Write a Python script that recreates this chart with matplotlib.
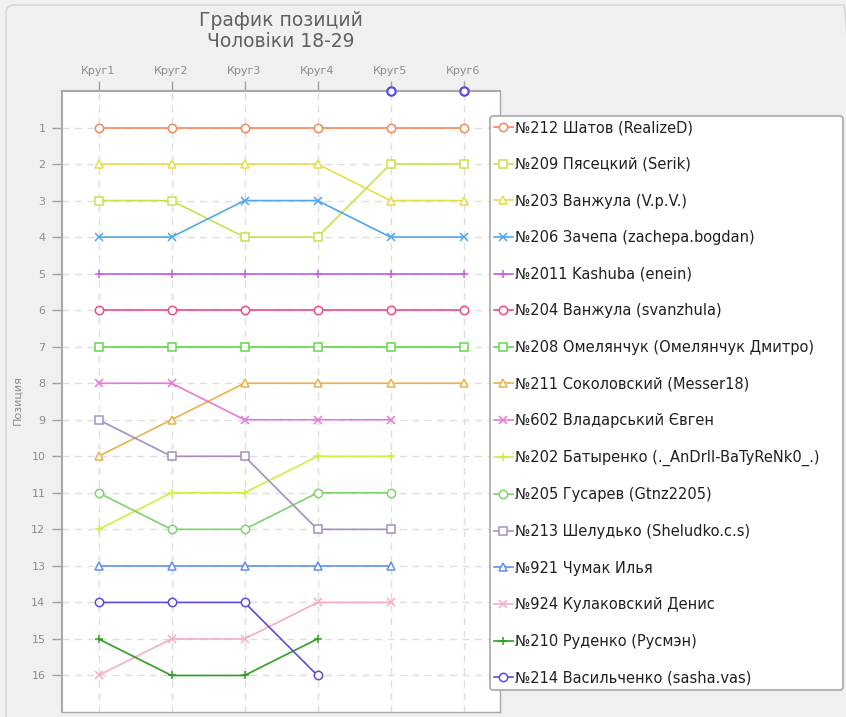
import numpy as np
import matplotlib.pyplot as plt
from matplotlib.patches import FancyBboxPatch

rounds = ["Круг1", "Круг2", "Круг3", "Круг4", "Круг5", "Круг6"]

names = [
    "№212 Шатов (RealizeD)",
    "№209 Пясецкий (Serik)",
    "№203 Ванжула (V.p.V.)",
    "№206 Зачепа (zachepa.bogdan)",
    "№2011 Kashuba (enein)",
    "№204 Ванжула (svanzhula)",
    "№208 Омелянчук (Омелянчук Дмитро)",
    "№211 Соколовский (Messer18)",
    "№602 Владарський Євген",
    "№202 Батыренко (._AnDrII-BaTyReNk0_.)",
    "№205 Гусарев (Gtnz2205)",
    "№213 Шелудько (Sheludko.c.s)",
    "№921 Чумак Илья",
    "№924 Кулаковский Денис",
    "№210 Руденко (Русмэн)",
    "№214 Васильченко (sasha.vas)",
]

# None = no result in that round, 0 = dropped out (drawn on the top edge)
positions = [
    [1, 1, 1, 1, 1, 1],
    [3, 3, 4, 4, 2, 2],
    [2, 2, 2, 2, 3, 3],
    [4, 4, 3, 3, 4, 4],
    [5, 5, 5, 5, 5, 5],
    [6, 6, 6, 6, 6, 6],
    [7, 7, 7, 7, 7, 7],
    [10, 9, 8, 8, 8, 8],
    [8, 8, 9, 9, 9, None],
    [12, 11, 11, 10, 10, None],
    [11, 12, 12, 11, 11, None],
    [9, 10, 10, 12, 12, None],
    [13, 13, 13, 13, 13, None],
    [16, 15, 15, 14, 14, None],
    [15, 16, 16, 15, None, None],
    [14, 14, 14, 16, 0, 0],
]

colors = ["#f08a5d", "#c8e34a", "#e6de4a", "#4ea8ea", "#c25ee6", "#ef4a8a",
          "#5fd84a", "#e9b24e", "#e57ad8", "#d2ee3c", "#7fd36e", "#a590bd",
          "#5f8ff2", "#f2afc2", "#2f9e22", "#5a4ce0"]
markers = ["o", "s", "^", "x", "+", "o", "s", "^", "x", "+", "o", "s",
           "^", "x", "+", "o"]

fig = plt.figure(figsize=(8.46, 7.17), dpi=100, facecolor="#f0f0f0")
fig.patches.append(FancyBboxPatch((6 / 846, -0.02), 1.0, 1.013,
                                  boxstyle="round,pad=0,rounding_size=0.01",
                                  transform=fig.transFigure, facecolor="none",
                                  edgecolor="#d4d4d4", lw=1.0))
ax = fig.add_axes([62 / 846, 1 - 712 / 717, 438 / 846, 621 / 717])
ax.set_facecolor("white")

x = np.arange(len(rounds))
for name, pos, col, mk in zip(names, positions, colors, markers):
    y = np.array([np.nan if (p is None or p == 0) else p for p in pos], float)
    out = np.array([0 if p == 0 else np.nan for p in pos], float)
    ax.plot(x, y, color=col, marker=mk, mfc="white", mec=col, ms=6,
            mew=1.1, lw=1.2, label=name)
    if not np.all(np.isnan(out)):
        ax.plot(x, out, color=col, marker=mk, mfc="white", mec=col, ms=6,
                mew=1.6, lw=0, clip_on=False, zorder=5)

ax.set_xlim(-0.5, 5.5)
ax.set_ylim(17.0, 0)
ax.set_yticks(range(1, 17))
ax.set_xticks(x)
ax.set_xticklabels(rounds)
ax.xaxis.tick_top()
ax.tick_params(axis="both", colors="#a0a0a0", labelcolor="#8c8c8c",
               labelsize=8, length=7, width=1)
ax.tick_params(axis="x", pad=4)
ax.tick_params(axis="y", pad=5)
ax.grid(True, color="#dedede", ls=(0, (5, 4)), lw=1)
for side in ["left", "top"]:
    ax.spines[side].set_color("#a8a8a8")
    ax.spines[side].set_linewidth(1.5)
for side in ["right", "bottom"]:
    ax.spines[side].set_color("#a8a8a8")
    ax.spines[side].set_linewidth(1.0)

ax.set_ylabel("Позиция", color="#8c8c8c", fontsize=8)
ax.yaxis.set_label_coords(-40 / 438, (712 - 400) / 621)
fig.text(281 / 846, 1 - 31 / 717, "График позиций\nЧоловiки 18-29",
         ha="center", va="center", fontsize=13.5, color="#606060",
         linespacing=1.15)

leg = ax.legend(loc="upper left",
                bbox_to_anchor=(490 / 846, 1 - 116 / 717, 353 / 846, 0),
                bbox_transform=fig.transFigure, mode="expand",
                fontsize=10.5, frameon=True,
                labelspacing=1.48, handlelength=1.25, handletextpad=0.15,
                borderaxespad=0, borderpad=0.3, fancybox=True,
                edgecolor="#a8a8a8", framealpha=1)
leg.get_frame().set_linewidth(1.2)
for t in leg.get_texts():
    t.set_color("#202020")

fig.savefig("out.png", dpi=100, facecolor=fig.get_facecolor())
